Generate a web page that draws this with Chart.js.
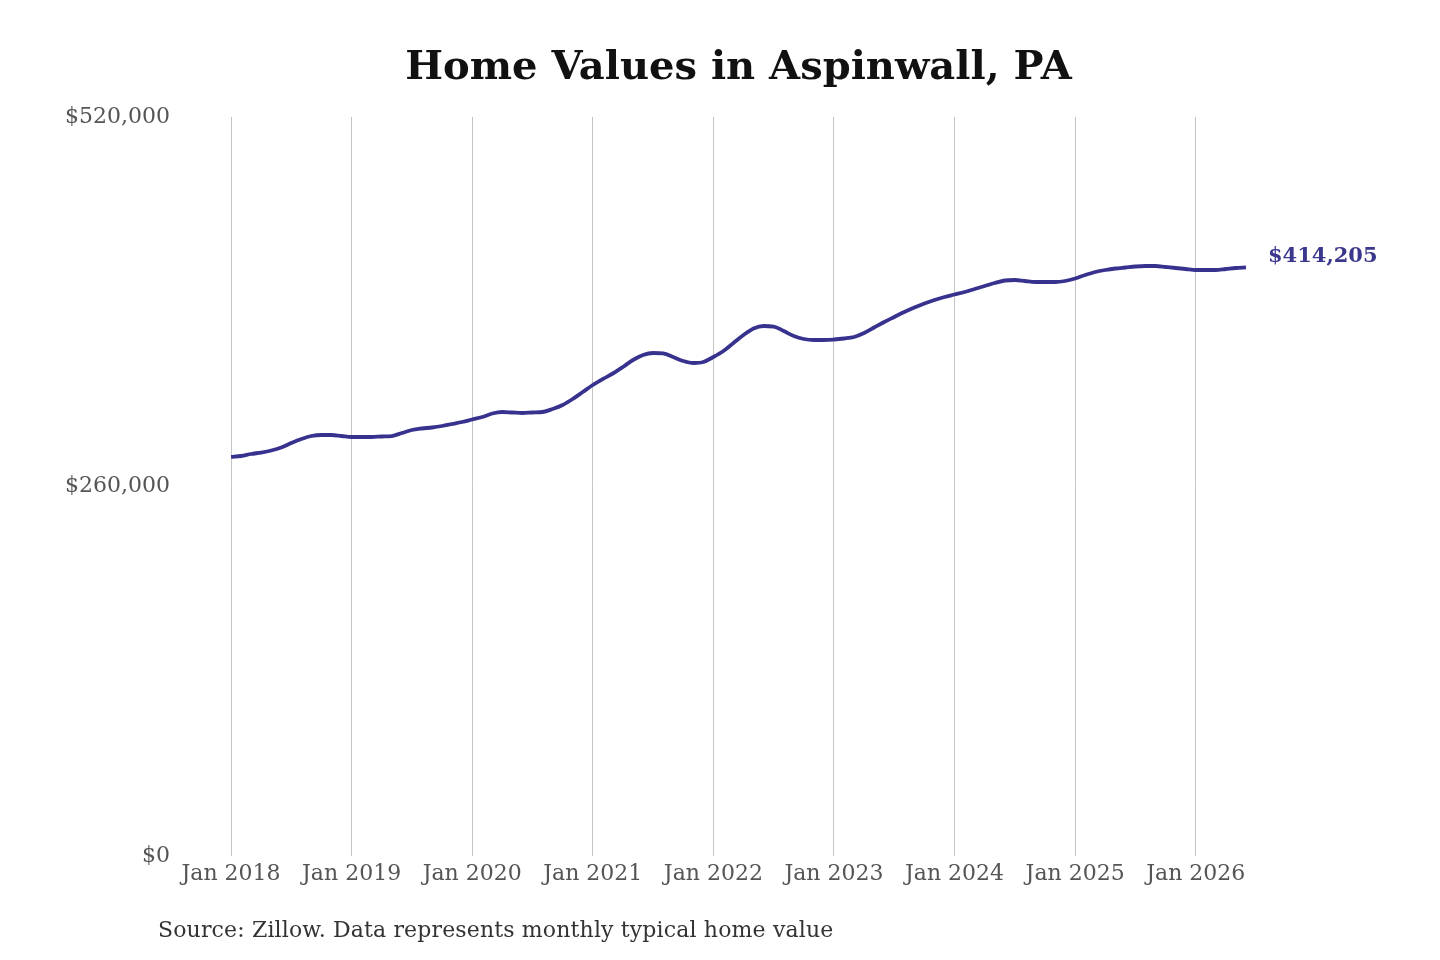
<!DOCTYPE html>
<html>
<head>
<meta charset="utf-8">
<script src="https://cdn.jsdelivr.net/npm/chart.js@4.4.1/dist/chart.umd.min.js"></script>
<style>
  html, body { margin: 0; padding: 0; background: #fff; }
  #wrap { position: relative; width: 1440px; height: 960px; }
  #source { position: absolute; left: 158px; top: 917px; font-family: "DejaVu Serif", serif; font-size: 22px; color: #333; white-space: nowrap; letter-spacing: 0.15px; }
</style>
</head>
<body>
<div id="wrap">
  <canvas id="c" width="1440" height="960"></canvas>
  <div id="source">Source: Zillow. Data represents monthly typical home value</div>
</div>
<script>
// Months from Jan 2018 to Jun 2026
const startYear = 2018;
const months = [];
for (let i = 0; i < 102; i++) {
  const y = startYear + Math.floor(i / 12);
  const m = (i % 12) + 1;
  months.push(y + '-' + String(m).padStart(2, '0'));
}
const homeValues = [
  280800, 281460, 282870, 283920, 285330, 287440, 290610, 293420, 295530, 296240, 296240, 295530,
  294830, 294830, 294830, 295180, 295530, 297640, 299760, 300810, 301520, 302570, 303980, 305390,
  307140, 308900, 311370, 312420, 312070, 311720, 312070, 312420, 314530, 317350, 321570, 326490,
  331420, 335640, 339510, 344090, 349010, 352530, 353940, 353590, 351120, 348310, 346900, 347600,
  351120, 355340, 360970, 366600, 371170, 372930, 372580, 369420, 365900, 363790, 363080, 363080,
  363440, 364140, 365200, 368010, 371880, 375750, 379270, 382790, 385950, 388770, 391230, 393340,
  395100, 396860, 398970, 401080, 403190, 404950, 405300, 404600, 403900, 403900, 403900, 404600,
  406360, 408820, 410930, 412340, 413390, 414100, 414800, 415150, 415150, 414450, 413750, 413040,
  412340, 412340, 412340, 413040, 413750, 414205
];
const xTickLabels = ['Jan 2018','Jan 2019','Jan 2020','Jan 2021','Jan 2022','Jan 2023','Jan 2024','Jan 2025','Jan 2026'];
const yTickValues = [0, 260000, 520000];

const lineColor = '#38328f';
const points = homeValues.map((v, i) => ({ x: i, y: v }));

const endLabel = {
  id: 'endLabel',
  afterDatasetsDraw(chart) {
    const meta = chart.getDatasetMeta(0);
    const last = meta.data[meta.data.length - 1];
    const ctx = chart.ctx;
    ctx.save();
    ctx.font = 'bold 21px "DejaVu Serif"';
    ctx.fillStyle = '#3b378c';
    ctx.textAlign = 'left';
    ctx.textBaseline = 'middle';
    ctx.fillText('$' + homeValues[homeValues.length - 1].toLocaleString('en-US'), last.x + 22, last.y - 11);
    ctx.restore();
  }
};

new Chart(document.getElementById('c'), {
  type: 'line',
  data: {
    datasets: [{
      data: points,
      borderColor: lineColor,
      borderWidth: 3.8,
      pointRadius: 0,
      tension: 0.4,
      cubicInterpolationMode: 'monotone',
      fill: false
    }]
  },
  options: {
    responsive: false,
    animation: false,
    devicePixelRatio: 1,
    layout: { padding: { left: 0, right: 194, top: 0, bottom: 0 } },
    plugins: {
      legend: { display: false },
      tooltip: { enabled: false },
      title: {
        display: true,
        text: 'Home Values in Aspinwall, PA',
        fullSize: false,
        color: '#111',
        font: { family: 'DejaVu Serif', size: 40, weight: 'bold', lineHeight: 1.2 },
        padding: { top: 45, bottom: 24 }
      }
    },
    scales: {
      x: {
        type: 'linear',
        min: 0,
        max: 101,
        afterBuildTicks(scale) {
          scale.ticks = xTickLabels.map((_, k) => ({ value: k * 12 }));
        },
        afterFit(scale) { scale.height = 104; },
        grid: { display: true, color: '#c4c4c4', lineWidth: 1, drawTicks: false },
        border: { display: false },
        ticks: {
          autoSkip: false,
          maxRotation: 0,
          padding: 5,
          color: '#555',
          font: { family: 'DejaVu Serif', size: 22 },
          callback: (v) => xTickLabels[Math.round(v / 12)]
        }
      },
      y: {
        min: 0,
        max: 520000,
        afterBuildTicks(scale) {
          scale.ticks = yTickValues.map(v => ({ value: v }));
        },
        afterFit(scale) { scale.width = 231; },
        grid: { display: false, drawTicks: false },
        border: { display: false },
        ticks: {
          padding: 61,
          color: '#555',
          font: { family: 'DejaVu Serif', size: 22 },
          callback: (v) => '$' + Number(v).toLocaleString('en-US')
        }
      }
    }
  },
  plugins: [endLabel]
});
</script>
</body>
</html>
